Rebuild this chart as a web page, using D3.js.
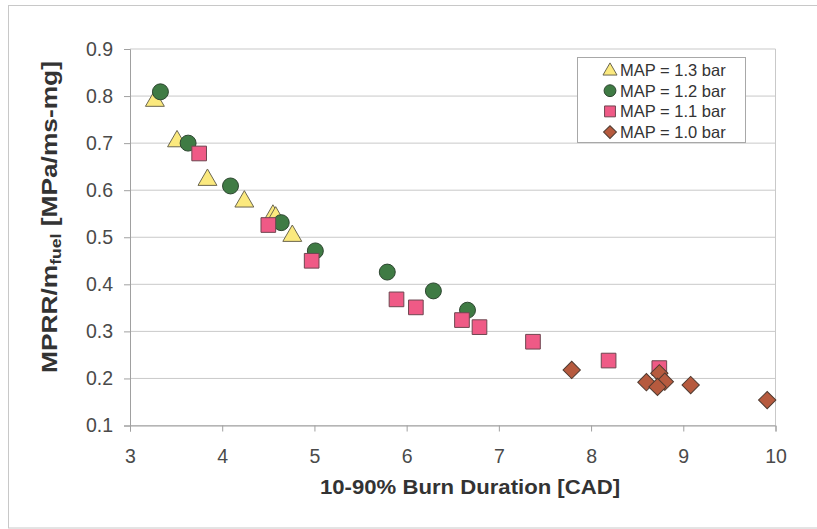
<!DOCTYPE html>
<html>
<head>
<meta charset="utf-8">
<script src="https://cdn.jsdelivr.net/npm/d3@7"></script>
<style>
  html, body { margin: 0; padding: 0; background: #fff; }
  svg { display: block; font-family: "Liberation Sans", Arial, sans-serif; }
</style>
</head>
<body>
<svg id="chart" width="817" height="529"></svg>
<script>
// Peak pressure-rise rate per fuel mass vs. 10-90% burn duration, by intake pressure
const seriesNames = ["MAP = 1.3 bar", "MAP = 1.2 bar", "MAP = 1.1 bar", "MAP = 1.0 bar"];

const map13 = [
  [3.27, 0.793], [3.51, 0.707], [3.84, 0.625], [4.24, 0.579],
  [4.55, 0.549], [4.58, 0.545], [4.76, 0.506]
];
const map12 = [
  [3.33, 0.809], [3.63, 0.700], [4.09, 0.609], [4.64, 0.531],
  [5.01, 0.471], [5.79, 0.426], [6.29, 0.386], [6.66, 0.345]
];
const map11 = [
  [3.75, 0.678], [4.50, 0.526], [4.97, 0.450], [5.89, 0.368],
  [6.10, 0.351], [6.60, 0.324], [6.79, 0.309], [7.37, 0.278],
  [8.19, 0.238], [8.74, 0.222]
];
const map10 = [
  [7.79, 0.218], [8.60, 0.192], [8.74, 0.211], [8.80, 0.193],
  [8.72, 0.182], [9.08, 0.186], [9.91, 0.154]
];

const xTicks = [3, 4, 5, 6, 7, 8, 9, 10];
const yTicks = [0.1, 0.2, 0.3, 0.4, 0.5, 0.6, 0.7, 0.8, 0.9];

const seriesData = [map13, map12, map11, map10];
// diamonds are squares turned by 45 degrees
const seriesStyle = [
  { shape: d3.symbolTriangle, size: 155, rot: 0,  dy: 1.5, fill: "#fbe97e", stroke: "#6b6650" },
  { shape: d3.symbolCircle,   size: 200, rot: 0,  dy: 0,   fill: "#3f7b44", stroke: "#2d4630" },
  { shape: d3.symbolSquare,   size: 215, rot: 0,  dy: 0,   fill: "#ef5a86", stroke: "#6e4650" },
  { shape: d3.symbolSquare,   size: 150, rot: 45, dy: 0,   fill: "#b65a3e", stroke: "#4e3a30" }
];

const svg = d3.select("#chart");
const W = 817, H = 529;
const plot = { left: 130, right: 775.5, top: 49, bottom: 425.5 };

// outer chart frame
svg.append("rect")
  .attr("x", 8.5).attr("y", 5.5)
  .attr("width", W + 10).attr("height", H - 6.5)
  .attr("fill", "#fff").attr("stroke", "#c8c8c8").attr("stroke-width", 1);

const x = d3.scaleLinear().domain([3, 10]).range([plot.left, plot.right]);
const y = d3.scaleLinear().domain([0.1, 0.9]).range([plot.bottom, plot.top]);

// horizontal gridlines
svg.append("g")
  .selectAll("line")
  .data(yTicks)
  .join("line")
  .attr("x1", plot.left).attr("x2", plot.right)
  .attr("y1", d => y(d)).attr("y2", d => y(d))
  .attr("stroke", "#c9c9c9").attr("stroke-width", 1);

// right edge of plot area
svg.append("line")
  .attr("x1", plot.right).attr("x2", plot.right)
  .attr("y1", plot.top).attr("y2", plot.bottom)
  .attr("stroke", "#c9c9c9");

// axes
const xAxis = svg.append("g")
  .attr("transform", `translate(0,${plot.bottom})`)
  .call(d3.axisBottom(x).tickValues(xTicks).tickSize(6).tickPadding(18).tickFormat(d3.format("d")));
const yAxis = svg.append("g")
  .attr("transform", `translate(${plot.left},0)`)
  .call(d3.axisLeft(y).tickValues(yTicks).tickSize(6).tickPadding(11).tickFormat(d3.format(".1f")));

[xAxis, yAxis].forEach(g => {
  g.select(".domain").attr("stroke", "#a0a0a0");
  g.selectAll(".tick line").attr("stroke", "#a0a0a0");
  g.selectAll(".tick text")
    .attr("fill", "#4a4a4a")
    .style("font-size", "19.5px")
    .style("font-family", "'Liberation Sans', Arial, sans-serif");
});

const markerTransform = (st, px, py) =>
  `translate(${px},${py + st.dy})` + (st.rot ? ` rotate(${st.rot})` : "");

// markers, series drawn in legend order
seriesData.forEach((data, i) => {
  const st = seriesStyle[i];
  const sym = d3.symbol().type(st.shape).size(st.size);
  svg.append("g")
    .selectAll("path")
    .data(data)
    .join("path")
    .attr("d", sym)
    .attr("transform", d => markerTransform(st, x(d[0]), y(d[1])))
    .attr("fill", st.fill)
    .attr("stroke", st.stroke)
    .attr("stroke-width", 1);
});

// axis titles (slightly widened glyphs)
svg.append("text")
  .attr("transform", "translate(470,494) scale(1.08,1)")
  .attr("text-anchor", "middle")
  .attr("fill", "#333")
  .style("font-size", "20.5px").style("font-weight", "bold")
  .text("10-90% Burn Duration [CAD]");

const yTitle = svg.append("text")
  .attr("transform", "translate(57,217) rotate(-90) scale(1.17,1)")
  .attr("text-anchor", "middle")
  .attr("fill", "#333")
  .style("font-size", "22.5px").style("font-weight", "bold");
yTitle.append("tspan").text("MPRR/m");
yTitle.append("tspan").attr("dy", 4).style("font-size", "15px").text("fuel");
yTitle.append("tspan").attr("dy", -4).text(" [MPa/ms-mg]");

// legend
const legend = svg.append("g");
legend.append("rect")
  .attr("x", 577.5).attr("y", 57.5)
  .attr("width", 168).attr("height", 85)
  .attr("fill", "#fff").attr("stroke", "#a8a8a8");
seriesNames.forEach((name, i) => {
  const st = seriesStyle[i];
  const cy = 70 + i * 20.7;
  legend.append("path")
    .attr("d", d3.symbol().type(st.shape).size(st.size * 0.55)())
    .attr("transform", markerTransform(st, 610, cy + (st.dy ? 1 - st.dy : 0)))
    .attr("fill", st.fill).attr("stroke", st.stroke);
  legend.append("text")
    .attr("x", 620).attr("y", cy + 6)
    .attr("fill", "#333")
    .style("font-size", "16.5px")
    .text(name);
});
</script>
</body>
</html>
